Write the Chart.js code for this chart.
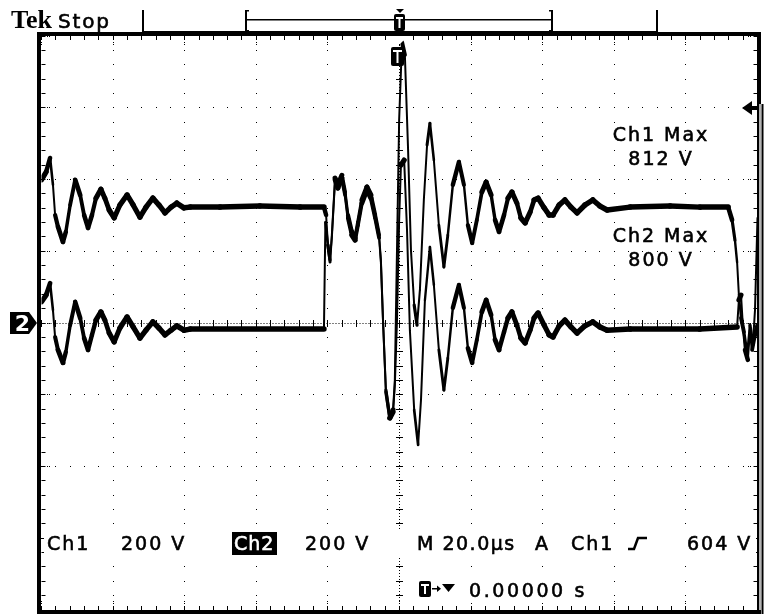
<!DOCTYPE html>
<html>
<head>
<meta charset="utf-8">
<script src="https://cdn.jsdelivr.net/npm/chart.js@4.4.0/dist/chart.umd.min.js"></script>
<style>
  html, body { margin: 0; padding: 0; background: #fff; }
  #scope { display: block; }
</style>
</head>
<body>
<canvas id="scope" width="767" height="616"></canvas>
<script>
// Tek scope capture: 2 channels @ 200 V/div, 20 us/div, trigger at centre

/* ----------------------------- axes ----------------------------- */
const timeTicks = [-100, -80, -60, -40, -20, 0, 20, 40, 60, 80, 100]; // us
const voltTicks = [-800, -600, -400, -200, 0, 200, 400, 600, 800];    // V
const minorTime = 4;   // 1/5 div
const minorVolt = 40;

/* ------------------------ Ch1 (upper trace) --------------------- */
const ch1Time = [-100, -98.7, -97.6, -96.8, -96.2, -95.4, -94.0, -93.2, -92.0, -90.6,
  -89.2, -88.1, -87.0, -85.9, -84.8, -83.4, -82.3, -81.1, -79.7, -78.1,
  -76.1, -74.4, -72.5, -70.8, -68.9, -67.2, -65.5, -63.8, -62.2, -60.2,
  -58.5, -50.1, -39.0, -27.8, -21.1, -20.5, -20.0, -19.4, -18.9, -18.0,
  -17.2, -16.1, -15.2, -14.4, -13.3, -12.4, -11.6, -10.5, -9.1, -8.0,
  -6.8, -5.7, -5.2, -4.6, -3.8, -2.7, -1.8, -1.3, -0.7, -0.1,
  0.7, 1.5, 2.4, 3.2, 4.1, 4.9, 5.7, 6.8, 7.7, 8.5,
  9.6, 11.0, 12.4, 13.5, 14.9, 16.6, 18.0, 19.1, 20.3, 21.6,
  23.0, 24.2, 25.6, 26.7, 27.8, 29.2, 30.3, 31.4, 32.8, 33.9,
  35.1, 36.5, 37.6, 38.7, 40.4, 41.8, 42.9, 44.6, 46.2, 47.9,
  49.6, 51.8, 54.0, 56.0, 58.0, 64.4, 75.6, 83.9, 91.8, 92.9,
  93.7, 94.3, 94.8, 95.4, 96.2, 97.1, 97.9, 98.7, 99.3, 100];
const ch1Volts = [399, 421, 460, 385, 301, 268, 226, 254, 329, 399,
  357, 301, 265, 301, 348, 373, 348, 315, 293, 329,
  357, 329, 295, 323, 348, 329, 307, 323, 334, 321,
  323, 323, 326, 323, 323, 301, 217, 176, 245, 404,
  385, 412, 365, 301, 254, 237, 281, 343, 379, 357,
  301, 245, 176, 8, -187, -265, -242, -159, 203, 566,
  783, 747, 482, 203, 50, -6, 92, 343, 496, 557,
  454, 273, 156, 245, 385, 449, 385, 273, 223, 287,
  365, 393, 357, 287, 254, 301, 348, 365, 334, 293,
  279, 309, 343, 348, 321, 301, 301, 329, 343, 323,
  307, 329, 343, 326, 315, 323, 326, 323, 323, 287,
  231, 170, 78, 14, -25, -89, -6, -61, 36, 293];

/* ------------------------ Ch2 (lower trace) --------------------- */
const ch2Time = [-100, -98.7, -97.6, -96.8, -96.2, -95.4, -94.0, -93.2, -92.0, -90.6,
  -89.2, -88.1, -87.0, -85.9, -84.8, -83.4, -82.3, -81.1, -79.7, -78.1,
  -76.1, -74.4, -72.5, -70.8, -68.9, -67.2, -65.5, -63.8, -62.2, -60.2,
  -58.5, -50.1, -39.0, -27.8, -21.1, -20.7, -20.0, -19.4, -18.9, -18.0,
  -17.2, -16.1, -15.2, -14.4, -13.3, -12.4, -11.6, -10.5, -9.1, -8.0,
  -6.8, -5.7, -5.2, -4.6, -3.8, -2.7, -1.8, -1.3, -0.7, -0.1,
  0.4, 1.3, 2.1, 2.9, 4.1, 5.2, 6.0, 7.1, 8.5, 9.6,
  11.0, 12.4, 13.5, 14.9, 16.6, 18.0, 19.1, 20.3, 21.6, 23.0,
  24.2, 25.6, 26.7, 27.8, 29.2, 30.3, 31.4, 32.8, 33.9, 35.1,
  36.5, 37.6, 38.7, 40.4, 41.8, 42.9, 44.6, 46.2, 47.9, 49.6,
  51.8, 54.0, 56.0, 58.0, 64.4, 75.6, 83.9, 94.3, 94.8, 95.4,
  95.9, 96.5, 97.3, 97.9, 98.5, 99.3, 100];
const ch2Volts = [59, 78, 111, 36, -39, -75, -111, -81, -6, 59,
  14, -42, -75, -33, 8, 31, 8, -28, -53, -14,
  17, -11, -42, -20, 3, -14, -33, -20, -8, -20,
  -17, -17, -17, -17, -17, 281, 217, 170, 237, 399,
  376, 404, 357, 293, 245, 231, 273, 334, 371, 348,
  293, 237, 170, 3, -192, -265, -248, -173, 8, 287,
  440, 454, 259, -20, -242, -340, -215, 64, 212, 106,
  -75, -187, -98, 42, 106, 42, -70, -111, -47, 31,
  64, 22, -47, -75, -25, 14, 31, -6, -42, -56,
  -20, 14, 28, -6, -33, -39, -8, 8, -11, -28,
  -8, 3, -11, -20, -17, -17, -17, -11, 64, 78,
  -6, -75, -103, -20, -75, -33, -6];

/* --------------------------- readouts --------------------------- */
const ch1Max = '812 V';
const ch2Max = '800 V';
const ch1Scale = '200 V';
const ch2Scale = '200 V';
const timebase = 'M 20.0µs';
const trigLevel = '604 V';
const trigPos = '0.00000 s';

const scopeFont = '19px "DejaVu Sans"';

function label(ctx, text, x, y, opts = {}) {
  ctx.font = opts.font || scopeFont;
  ctx.letterSpacing = opts.spacing || '2px';
  ctx.textAlign = opts.align || 'left';
  ctx.textBaseline = 'alphabetic';
  ctx.fillStyle = opts.color || '#000';
  ctx.fillText(text, x, y);
  // screen font is a bit heavier than DejaVu Book
  if (opts.heavy !== false) {
    ctx.strokeStyle = opts.color || '#000';
    ctx.lineWidth = 0.6;
    ctx.strokeText(text, x, y);
  }
}

// noisy flat parts look thick, steep edges thin
const traceWidth = c => {
  const dx = Math.abs(c.p1.x - c.p0.x) || 0.01;
  const s = Math.abs(c.p1.y - c.p0.y) / dx;
  return Math.max(2, 5.5 / Math.sqrt(1 + (s / 5) ** 2));
};

/* -------------------- dotted graticule plugin ------------------- */
const graticule = {
  id: 'graticule',
  beforeDatasetsDraw(chart) {
    const { ctx, chartArea: a, scales: { x, y } } = chart;
    ctx.save();
    ctx.fillStyle = '#000';
    const dot = (px, py) => ctx.fillRect(Math.floor(px), Math.floor(py), 1, 1);

    // major lines as dots at every minor step
    timeTicks.slice(1, -1).forEach(t => {
      if (t === 0) return;
      const px = x.getPixelForValue(t);
      for (let v = -800; v <= 800; v += minorVolt) dot(px, y.getPixelForValue(v));
    });
    voltTicks.slice(1, -1).forEach(v => {
      if (v === 0) return;
      const py = y.getPixelForValue(v);
      for (let t = -100; t <= 100; t += minorTime) dot(x.getPixelForValue(t), py);
    });

    // centre cross: fine dotted line + tick marks
    const cx = Math.floor(x.getPixelForValue(0)) + 0.5;
    const cy = Math.floor(y.getPixelForValue(0)) + 0.5;
    ctx.strokeStyle = '#000';
    ctx.lineWidth = 1;
    ctx.setLineDash([1, 2]);
    ctx.beginPath();
    ctx.moveTo(a.left, cy); ctx.lineTo(a.right, cy);
    ctx.moveTo(cx, a.top); ctx.lineTo(cx, a.bottom);
    ctx.stroke();
    ctx.setLineDash([]);
    for (let t = -100; t <= 100; t += minorTime) {
      const px = Math.floor(x.getPixelForValue(t));
      ctx.fillRect(px, cy - 3.5, 1, 7);
    }
    for (let v = -800; v <= 800; v += minorVolt) {
      const py = Math.floor(y.getPixelForValue(v));
      ctx.fillRect(cx - 3.5, py, 7, 1);
    }

    // inner edge ticks
    for (let t = -100; t <= 100; t += minorTime) {
      const px = Math.floor(x.getPixelForValue(t));
      const major = t % 20 === 0;
      ctx.fillRect(px, a.top, 1, 4);
      ctx.fillRect(px, a.bottom - 4, 1, 4);
      if (major) {
        dot(px, a.top + 6); dot(px, a.top + 8);
        dot(px, a.bottom - 7); dot(px, a.bottom - 9);
      }
    }
    for (let v = -800; v <= 800; v += minorVolt) {
      const py = Math.floor(y.getPixelForValue(v));
      const major = v % 200 === 0;
      ctx.fillRect(a.left, py, 4, 1);
      ctx.fillRect(a.right - 4, py, 4, 1);
      if (major) {
        dot(a.left + 6, py); dot(a.left + 8, py);
        dot(a.right - 7, py); dot(a.right - 9, py);
      }
    }
    ctx.restore();
  }
};

/* ------------------- frame, markers and text ------------------- */
function tBox(ctx, x, y, w, h) {
  ctx.fillStyle = '#000';
  ctx.beginPath();
  ctx.roundRect(x, y, w, h, 2);
  ctx.fill();
  ctx.fillStyle = '#fff';
  ctx.fillRect(x + 2, y + 3, w - 4, 2);
  ctx.fillRect(x + w / 2 - 1, y + 3, 2, h - 6);
}

function tri(ctx, pts) {
  ctx.beginPath();
  ctx.moveTo(pts[0], pts[1]);
  for (let i = 2; i < pts.length; i += 2) ctx.lineTo(pts[i], pts[i + 1]);
  ctx.closePath();
  ctx.fill();
}

const scopeOverlay = {
  id: 'scopeOverlay',
  afterDraw(chart) {
    const { ctx } = chart;
    ctx.save();

    // graticule frame
    ctx.strokeStyle = '#000';
    ctx.lineWidth = 4;
    ctx.strokeRect(39, 34, 720, 578);
    // right edge doubled below the trigger level arrow
    ctx.fillStyle = '#fff';
    ctx.fillRect(759.3, 104, 1.4, 506);
    ctx.fillStyle = '#000';
    ctx.fillRect(761.5, 104, 2, 510);

    // record / window bar on top
    ctx.fillRect(142, 10, 2, 23);
    ctx.fillRect(656, 10, 2, 23);
    ctx.fillRect(143, 31, 514, 1.5);
    ctx.fillRect(246, 19, 307, 1.5);
    ctx.fillRect(245, 10, 2, 22);
    ctx.fillRect(245, 10, 4, 1.5);
    ctx.fillRect(245, 30, 4, 1.5);
    ctx.fillRect(551, 10, 2, 22);
    ctx.fillRect(549, 10, 4, 1.5);
    ctx.fillRect(549, 30, 4, 1.5);
    tri(ctx, [396, 9, 404, 9, 400, 13]);
    tBox(ctx, 394, 14, 11, 17);

    // trigger position markers
    tri(ctx, [392, 36, 408, 36, 400, 44]);
    tBox(ctx, 391, 47, 13, 19);

    // trigger level arrow (right)
    ctx.fillStyle = '#000';
    tri(ctx, [742, 108, 752, 101, 752, 115]);
    ctx.fillRect(751, 106, 7, 4);

    // Ch2 ground marker
    tri(ctx, [10, 312, 29, 312, 37, 323, 29, 334, 10, 334]);
    label(ctx, '2', 22.5, 331, { font: 'bold 22px "DejaVu Sans"', spacing: '0px', align: 'center', color: '#fff', heavy: false });

    // header
    label(ctx, 'Tek', 11, 28, { font: 'bold 26px "Liberation Serif"', spacing: '0px', heavy: false });
    label(ctx, 'Stop', 58, 28, { font: '20px "DejaVu Sans"', spacing: '1.8px' });

    // measurements
    label(ctx, 'Ch1 Max', 661, 141, { align: 'center' });
    label(ctx, ch1Max, 661, 165, { align: 'center' });
    label(ctx, 'Ch2 Max', 661, 242, { align: 'center' });
    label(ctx, ch2Max, 661, 266, { align: 'center' });

    // bottom readouts
    ctx.fillStyle = '#fff';
    ctx.fillRect(44, 531, 712, 26);
    ctx.fillRect(414, 576, 180, 26);
    label(ctx, 'Ch1', 47, 550);
    label(ctx, ch1Scale, 121, 550);
    ctx.fillStyle = '#000';
    ctx.fillRect(232, 532, 45, 23);
    label(ctx, 'Ch2', 234, 550, { color: '#fff', spacing: '1px' });
    label(ctx, ch2Scale, 305, 550);
    label(ctx, timebase, 417, 550, { spacing: '1.5px' });
    label(ctx, 'A', 535, 550);
    label(ctx, 'Ch1', 571, 550);
    // rising edge glyph
    ctx.strokeStyle = '#000';
    ctx.lineWidth = 2.5;
    ctx.beginPath();
    ctx.moveTo(628, 549); ctx.lineTo(634, 549); ctx.lineTo(638, 538); ctx.lineTo(647, 538);
    ctx.stroke();
    label(ctx, trigLevel, 687, 550);

    tBox(ctx, 419, 581, 12, 16);
    ctx.fillStyle = '#000';
    ctx.fillRect(432, 588, 6, 1.5);
    tri(ctx, [437, 585.5, 441, 588.7, 437, 592]);
    tri(ctx, [442, 584, 455, 584, 448.5, 592]);
    label(ctx, trigPos, 469, 597, { spacing: '2.6px' });

    ctx.restore();
  }
};

/* ---------------------------- chart ----------------------------- */
const traceStyle = {
  borderColor: '#000',
  borderCapStyle: 'round',
  borderJoinStyle: 'round',
  pointRadius: 0,
  tension: 0,
  fill: false,
  segment: { borderWidth: traceWidth }
};

new Chart(document.getElementById('scope'), {
  type: 'line',
  data: {
    datasets: [
      { label: 'Ch1', data: ch1Time.map((t, i) => ({ x: t, y: ch1Volts[i] })), ...traceStyle },
      { label: 'Ch2', data: ch2Time.map((t, i) => ({ x: t, y: ch2Volts[i] })), ...traceStyle }
    ]
  },
  options: {
    responsive: false,
    animation: false,
    devicePixelRatio: 1,
    layout: { padding: { left: 41.5, right: 9.5, top: 36, bottom: 6 } },
    plugins: { legend: { display: false }, tooltip: { enabled: false } },
    scales: {
      x: { type: 'linear', display: false, min: timeTicks[0], max: timeTicks[timeTicks.length - 1] },
      y: { type: 'linear', display: false, min: voltTicks[0], max: voltTicks[voltTicks.length - 1] }
    }
  },
  plugins: [graticule, scopeOverlay]
});
</script>
</body>
</html>
